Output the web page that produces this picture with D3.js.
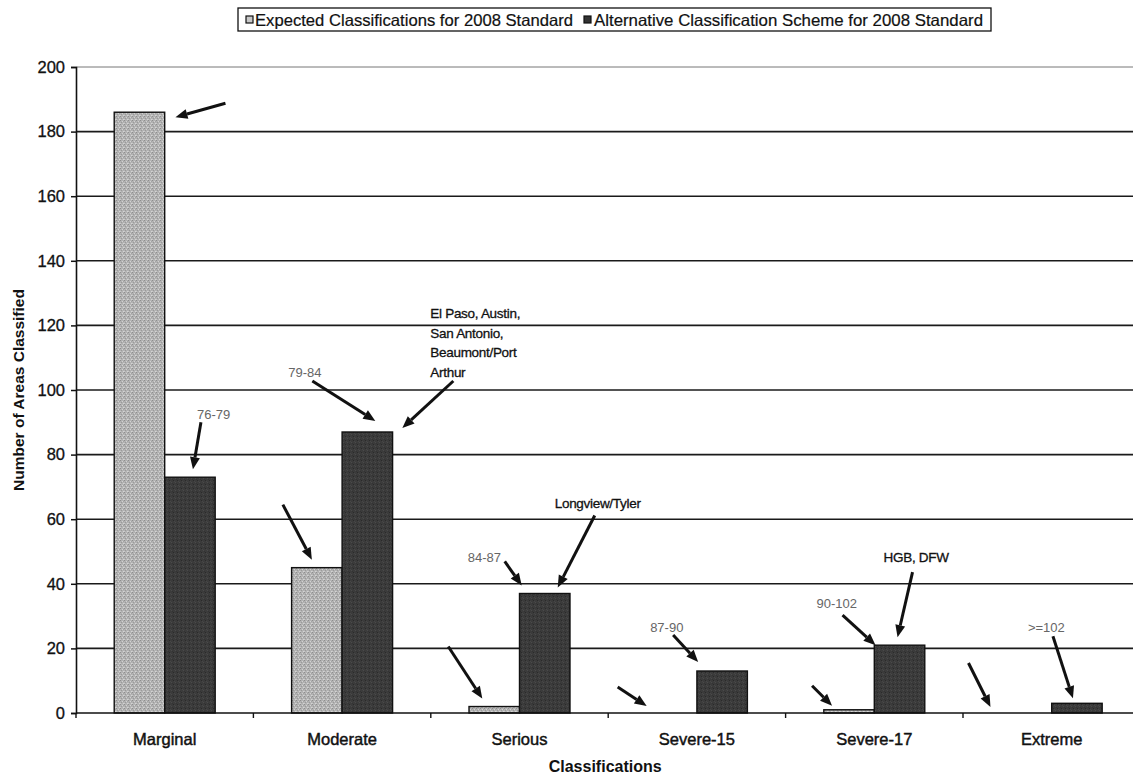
<!DOCTYPE html>
<html>
<head>
<meta charset="utf-8">
<script src="https://cdn.jsdelivr.net/npm/d3@7"></script>
<style>
  html, body { margin: 0; padding: 0; background: #fff; }
  svg { display: block; }
  text { font-family: "Liberation Sans", Arial, sans-serif; }
</style>
</head>
<body>
<svg id="chart" width="1133" height="776"></svg>
<script>
// Classification counts per ozone category
const categories = ["Marginal", "Moderate", "Serious", "Severe-15", "Severe-17", "Extreme"];
const seriesNames = ["Expected Classifications for 2008 Standard",
                     "Alternative Classification Scheme for 2008 Standard"];
const expectedCounts = [186, 45, 2, 0, 1, 0];
const alternativeCounts = [73, 87, 37, 13, 21, 3];
const yTickValues = [0, 20, 40, 60, 80, 100, 120, 140, 160, 180, 200];

// Callout text for each bar (range of design values / areas named)
const rangeLabels = ["76-79", "79-84", "84-87", "87-90", "90-102", ">=102"];
const areaLabels = [null,
  ["El Paso, Austin,", "San Antonio,", "Beaumont/Port", "Arthur"],
  ["Longview/Tyler"], null, ["HGB, DFW"], null];

// Callout layout: offsets from the bar's top centre (series 0 = expected, 1 = alternative)
const callouts = [
  { cat: 0, s: 0, text: null, tail: [86, -9], head: [36, 5] },
  { cat: 0, s: 1, text: rangeLabels[0], tx: 7, ty: -58, tail: [11, -55], head: [3, -8] },
  { cat: 1, s: 0, text: null, tail: [-34, -63], head: [-5, -8] },
  { cat: 1, s: 1, text: rangeLabels[1], tx: -79, ty: -55, tail: [-55, -51], head: [8, -11] },
  { cat: 1, s: 1, lines: areaLabels[1], tx: 63, ty: -114, tail: [86, -51], head: [35, -4] },
  { cat: 2, s: 0, text: null, tail: [-46, -60], head: [-12, -8] },
  { cat: 2, s: 1, text: rangeLabels[2], tx: -77, ty: -31, tail: [-40, -32], head: [-23, -8] },
  { cat: 2, s: 1, lines: areaLabels[2], tx: 10, ty: -85, tail: [50, -78], head: [13, -6] },
  { cat: 3, s: 0, text: null, tail: [-54, -26], head: [-25, -7] },
  { cat: 3, s: 1, text: rangeLabels[3], tx: -72, ty: -39, tail: [-49, -36], head: [-24, -9] },
  { cat: 4, s: 0, text: null, tail: [-37, -24], head: [-17, -4] },
  { cat: 4, s: 1, text: rangeLabels[4], tx: -83, ty: -37, tail: [-57, -30], head: [-24, 0] },
  { cat: 4, s: 1, lines: areaLabels[4], tx: -16, ty: -83, tail: [13, -73], head: [-2, -8] },
  { cat: 5, s: 0, text: null, tail: [-58, -50], head: [-36, -6] },
  { cat: 5, s: 1, text: rangeLabels[5], tx: -49, ty: -71, tail: [-24, -67], head: [-4, -5] }
];

const svg = d3.select("#chart");
const W = 1133, H = 776;
const plot = { left: 76, top: 67, bottom: 713, step: 177.4 };
plot.right = plot.left + plot.step * categories.length;

const x = d3.scaleBand().domain(categories).range([plot.left, plot.right]).padding(0);
const xs = d3.scaleBand().domain([0, 1]).range([0, x.bandwidth()])
  .paddingInner(0).paddingOuter(0.757);
const y = d3.scaleLinear().domain([0, 200]).range([plot.bottom, plot.top]);

// Stippled fills for both series
const defs = svg.append("defs");
const pat = defs.append("pattern").attr("id", "stipple")
  .attr("width", 4).attr("height", 4).attr("patternUnits", "userSpaceOnUse");
pat.append("rect").attr("width", 4).attr("height", 4).attr("fill", "#b2b2b2");
[[0, 0, "#8e8e8e"], [2, 1, "#d2d2d2"], [1, 2, "#9a9a9a"], [3, 3, "#d4d4d4"], [3, 1, "#a4a4a4"], [0, 3, "#c8c8c8"]]
  .forEach(([px, py, c]) => pat.append("rect").attr("x", px).attr("y", py)
    .attr("width", 1).attr("height", 1).attr("fill", c));
const dpat = defs.append("pattern").attr("id", "stippleDark")
  .attr("width", 4).attr("height", 4).attr("patternUnits", "userSpaceOnUse");
dpat.append("rect").attr("width", 4).attr("height", 4).attr("fill", "#3b3b3b");
[[1, 0, "#2a2a2a"], [3, 2, "#4a4a4a"], [0, 3, "#333"], [2, 1, "#464646"]]
  .forEach(([px, py, c]) => dpat.append("rect").attr("x", px).attr("y", py)
    .attr("width", 1).attr("height", 1).attr("fill", c));

// Horizontal gridlines
svg.append("g").selectAll("line").data(yTickValues.filter(d => d > 0)).join("line")
  .attr("x1", plot.left).attr("x2", W)
  .attr("y1", d => y(d)).attr("y2", d => y(d))
  .attr("stroke", d => d === 200 ? "#777" : "#1a1a1a")
  .attr("stroke-width", d => d === 200 ? 1 : 1.6);

// Bars
const fills = ["url(#stipple)", "url(#stippleDark)"];
const seriesData = [expectedCounts, alternativeCounts];
seriesData.forEach((vals, s) => {
  svg.append("g").selectAll("rect").data(vals).join("rect")
    .attr("x", (d, i) => x(categories[i]) + xs(s))
    .attr("y", d => y(d))
    .attr("width", xs.bandwidth())
    .attr("height", d => y(0) - y(d))
    .attr("fill", fills[s])
    .attr("stroke", d => d > 0 ? "#111" : "none")
    .attr("stroke-width", 1.4);
});

// Y axis
const yAxis = svg.append("g").attr("transform", `translate(${plot.left},0)`)
  .call(d3.axisLeft(y).tickValues(yTickValues).tickSize(5).tickPadding(6).tickFormat(d3.format("d")));
yAxis.select(".domain").attr("stroke", "#111").attr("stroke-width", 1.6);
yAxis.selectAll(".tick line").attr("stroke", "#111").attr("stroke-width", 1.5);
yAxis.selectAll(".tick text").attr("font-size", 16.5).attr("fill", "#111")
  .attr("stroke", "#111").attr("stroke-width", 0.3)
  .attr("font-family", "'Liberation Sans', Arial, sans-serif");

// X axis: ticks sit on the category boundaries
const xAxis = svg.append("g").attr("transform", `translate(0,${plot.bottom})`);
xAxis.append("line").attr("x1", plot.left).attr("x2", W)
  .attr("y1", 0).attr("y2", 0).attr("stroke", "#111").attr("stroke-width", 1.6);
const bounds = d3.range(categories.length).map(i => x(categories[i]));
xAxis.selectAll("line.tk").data(bounds).join("line").attr("class", "tk")
  .attr("x1", d => d).attr("x2", d => d).attr("y1", 0).attr("y2", 5)
  .attr("stroke", "#111").attr("stroke-width", 1.4);
xAxis.selectAll("text").data(categories).join("text")
  .attr("x", d => x(d) + x.bandwidth() / 2).attr("y", 32)
  .attr("text-anchor", "middle").attr("font-size", 16.5).attr("fill", "#111")
  .attr("stroke", "#111").attr("stroke-width", 0.45)
  .text(d => d);

// Axis titles
svg.append("text").attr("x", (plot.left + plot.right) / 2 - 3).attr("y", 772)
  .attr("text-anchor", "middle").attr("font-size", 16).attr("font-weight", "bold")
  .attr("fill", "#111").text("Classifications");
svg.append("text").attr("transform", `translate(24,${(plot.top + plot.bottom) / 2}) rotate(-90)`)
  .attr("text-anchor", "middle").attr("font-size", 15.5).attr("font-weight", "bold")
  .attr("fill", "#111").text("Number of Areas Classified");

// Callout arrows and labels
const ann = svg.append("g");
function arrow(x1, y1, x2, y2) {
  const ang = Math.atan2(y2 - y1, x2 - x1);
  const L = 12, Wd = 5;
  const bx = x2 - L * Math.cos(ang), by = y2 - L * Math.sin(ang);
  ann.append("line").attr("x1", x1).attr("y1", y1).attr("x2", bx).attr("y2", by)
    .attr("stroke", "#111").attr("stroke-width", 3);
  const p = [[x2, y2],
    [bx + Wd * Math.sin(ang), by - Wd * Math.cos(ang)],
    [bx - Wd * Math.sin(ang), by + Wd * Math.cos(ang)]];
  ann.append("polygon").attr("points", p.map(q => q.join(",")).join(" ")).attr("fill", "#111");
}
callouts.forEach(c => {
  const cat = categories[c.cat];
  const v = seriesData[c.s][c.cat];
  const cx = x(cat) + xs(c.s) + xs.bandwidth() / 2;
  const cy = y(v);
  arrow(cx + c.tail[0], cy + c.tail[1], cx + c.head[0], cy + c.head[1]);
  if (c.text) {
    ann.append("text").attr("x", cx + c.tx).attr("y", cy + c.ty)
      .attr("font-size", 13).attr("fill", "#666").text(c.text);
  }
  if (c.lines) {
    c.lines.forEach((ln, k) => {
      ann.append("text").attr("x", cx + c.tx).attr("y", cy + c.ty + k * 19.7)
        .attr("font-size", 13.5).attr("fill", "#111").attr("letter-spacing", -0.3)
        .attr("stroke", "#111").attr("stroke-width", 0.3).text(ln);
    });
  }
});

// Legend
const lg = svg.append("g");
lg.append("rect").attr("x", 238).attr("y", 8).attr("width", 753).attr("height", 23)
  .attr("fill", "#fff").attr("stroke", "#111").attr("stroke-width", 1.3);
const legendItems = [
  { sq: 246, tx: 255, len: 318 },
  { sq: 584, tx: 594, len: 389 }
];
legendItems.forEach((it, s) => {
  lg.append("rect").attr("x", it.sq).attr("y", 16).attr("width", 7).attr("height", 7)
    .attr("fill", s === 0 ? "#c8c8c8" : "#333").attr("stroke", "#111").attr("stroke-width", 1.2);
  lg.append("text").attr("x", it.tx).attr("y", 26).attr("font-size", 16.5)
    .attr("fill", "#111").attr("stroke", "#111").attr("stroke-width", 0.2)
    .attr("textLength", it.len).attr("lengthAdjust", "spacingAndGlyphs")
    .text(seriesNames[s]);
});
</script>
</body>
</html>
